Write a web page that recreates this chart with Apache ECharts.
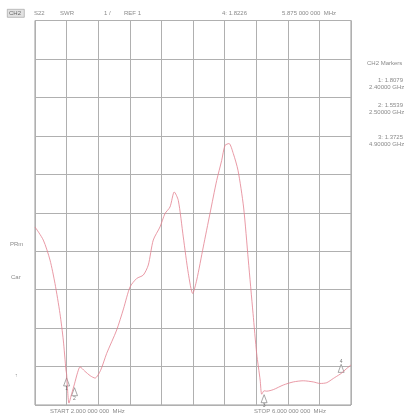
<!DOCTYPE html>
<html><head><meta charset="utf-8">
<script src="https://cdn.jsdelivr.net/npm/echarts@6/dist/echarts.min.js"></script>
<style>html,body{margin:0;padding:0;background:#fff}#c{width:414px;height:413px}</style>
</head><body><div id="c"></div>
<script>
// Frequency (GHz) and SWR trace values
var freqGHz = [2.000,2.105,2.190,2.253,2.316,2.358,2.392,2.400,2.430,2.465,2.500,2.540,2.570,2.630,2.700,2.760,2.830,2.907,3.034,3.120,3.203,3.287,3.371,3.434,3.497,3.582,3.646,3.709,3.763,3.814,3.877,3.941,3.996,4.047,4.130,4.215,4.300,4.363,4.405,4.456,4.510,4.570,4.640,4.700,4.760,4.806,4.850,4.870,4.900,4.933,5.017,5.143,5.270,5.396,5.523,5.608,5.692,5.776,5.861,5.875,5.946,6.000];
var swr     = [5.63,5.29,4.77,4.16,3.38,2.69,1.91,1.81,1.05,1.30,1.55,1.85,1.99,1.88,1.76,1.70,1.90,2.34,2.95,3.50,4.07,4.29,4.38,4.64,5.29,5.63,5.98,6.15,6.54,6.32,5.37,4.42,3.90,4.25,5.11,5.98,6.84,7.36,7.75,7.80,7.54,7.10,6.15,4.77,3.38,2.34,1.65,1.28,1.37,1.36,1.40,1.52,1.60,1.63,1.60,1.56,1.58,1.69,1.80,1.82,1.95,2.04];
// Markers
var markerIds  = ['1','2','3','4'];
var markerFreq = [2.4, 2.5, 4.9, 5.875];
var markerVal  = [1.8079, 1.5539, 1.3725, 1.8226];
var markerFreqText = ['2.40000 GHz','2.50000 GHz','4.90000 GHz'];
var markerValText  = ['1: 1.8079','2: 1.5539','3: 1.3725'];
// Axis settings
var xMin = 2, xMax = 6, xStep = 0.4;
var yMin = 1, yMax = 11, yStep = 1;

var chart = echarts.init(document.getElementById('c'), null, {renderer:'canvas'});
var txtColor = '#8a8a8a';
var font = 'Liberation Sans';
function t(x, y, s, extra) {
  var o = {type:'text', left:x, top:y, silent:true,
    style:{text:s, fill:txtColor, font:'6px "' + font + '"'}};
  if (extra) Object.assign(o.style, extra);
  return o;
}
var graphics = [
  {type:'rect', left:7, top:9, shape:{width:17, height:8}, style:{fill:'#e2e2e2', stroke:'#999', lineWidth:0.6}},
  t(9, 10, 'CH2', {fill:'#666'}),
  t(34, 10, 'S22'),
  t(60, 10, 'SWR'),
  t(104, 10, '1 /'),
  t(124, 10, 'REF 1'),
  t(222, 10, '4: 1.8226'),
  t(282, 10, '5.875 000 000  MHz'),
  t(367, 60, 'CH2 Markers'),
  t(10, 241, 'PRm'),
  t(11, 274, 'Car'),
  t(15, 373, '\u2191', {font:'5px "' + font + '"'}),
  t(50, 408, 'START 2.000 000 000  MHz'),
  t(254, 408, 'STOP 6.000 000 000  MHz')
];
var mY = [77, 102, 134];
for (var i = 0; i < markerValText.length; i++) {
  graphics.push(t(378, mY[i], markerValText[i]));
  graphics.push(t(369, mY[i] + 7, markerFreqText[i]));
}

var markerData = markerIds.map(function(id, i){
  var up = (i === 3);
  return {value:[markerFreq[i], markerVal[i]], name:id,
    symbolOffset:[0, up ? -5 : 8],
    label:{position: up ? 'top' : 'bottom', distance: 0}};
});

chart.setOption({
  animation:false,
  grid:{left:35, right:63, top:20.5, bottom:8, show:true, borderColor:'#9a9a9a', borderWidth:1},
  xAxis:{type:'value', min:xMin, max:xMax, interval:xStep,
    axisLine:{show:false}, axisTick:{show:false}, axisLabel:{show:false},
    splitLine:{show:true, lineStyle:{color:'#b0b0b0', width:1}}},
  yAxis:{type:'value', min:yMin, max:yMax, interval:yStep,
    axisLine:{show:false}, axisTick:{show:false}, axisLabel:{show:false},
    splitLine:{show:true, lineStyle:{color:'#b0b0b0', width:1}}},
  series:[
    {type:'line', data:freqGHz.map(function(f,i){return [f, swr[i]];}),
     smooth:0.25, showSymbol:false, clip:true,
     lineStyle:{color:'#e3808f', width:0.8}},
    {type:'scatter', data:markerData, symbol:'triangle', symbolSize:[6,8],
     itemStyle:{color:'#fff', borderColor:'#777', borderWidth:0.8},
     label:{show:true, formatter:'{b}', color:'#555', fontSize:5, fontFamily:font}}
  ],
  graphic:graphics
});
</script></body></html>
